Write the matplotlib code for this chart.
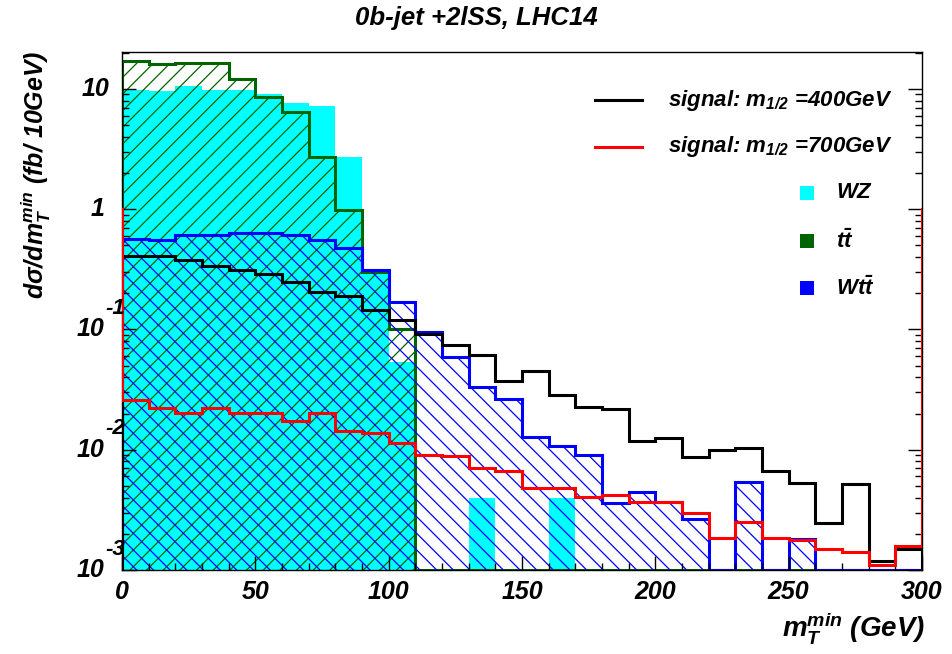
import numpy as np
import matplotlib
matplotlib.use("Agg")
import matplotlib.pyplot as plt
import matplotlib.transforms as mtransforms
from matplotlib.lines import Line2D
from matplotlib.patches import Rectangle

plt.rcParams['font.family'] = ['Liberation Sans', 'DejaVu Sans']
plt.rcParams['font.weight'] = 'bold'
plt.rcParams['font.style'] = 'italic'
plt.rcParams['mathtext.fontset'] = 'custom'
plt.rcParams['mathtext.it'] = 'Liberation Sans:bold:italic'
plt.rcParams['mathtext.rm'] = 'Liberation Sans:bold:italic'
plt.rcParams['mathtext.bf'] = 'Liberation Sans:bold:italic'
plt.rcParams['hatch.linewidth'] = 0.9

# m_T^min bins, 10 GeV wide
bin_edges = np.arange(0, 310, 10)

# WZ (cyan, solid)
wz = [9.9, 9.7, 10.5, 9.9, 9.8, 9.0, 7.6, 7.2, 2.7, 0.30,
      0.054, 0, 0, 0.0040, 0, 0, 0.0040, 0, 0, 0,
      0, 0, 0, 0, 0, 0, 0, 0, 0, 0]
# ttbar (green, ///)
tt = [17.2, 16.1, 16.4, 16.4, 12.0, 8.5, 6.4, 2.7, 0.98, 0.30,
      0.101, 0, 0, 0, 0, 0, 0, 0, 0, 0,
      0, 0, 0, 0, 0, 0, 0, 0, 0, 0]
# W ttbar (blue, \\\)
wtt = [0.57, 0.56, 0.61, 0.61, 0.63, 0.63, 0.61, 0.55, 0.48, 0.31,
       0.169, 0.095, 0.0588, 0.0335, 0.0262, 0.0127, 0.0107, 0.0090, 0.00362, 0.00447,
       0.0037, 0.00268, 0, 0.0054, 0, 0.0018, 0, 0, 0, 0]
# signal m_1/2 = 400 GeV
sig400 = [0.41, 0.41, 0.375, 0.34, 0.31, 0.29, 0.25, 0.205, 0.19, 0.146,
          0.12, 0.091, 0.0736, 0.0619, 0.0371, 0.045, 0.0286, 0.0228, 0.0218, 0.0119,
          0.0125, 0.00863, 0.0100, 0.0103, 0.0066, 0.00534, 0.00245, 0.00518, 0.00119, 0.0015]
# signal m_1/2 = 700 GeV, with underflow (first) and overflow (last) bins
sig700 = [1.0,
          0.026, 0.0222, 0.0201, 0.0222, 0.0201, 0.0201, 0.0175, 0.0201, 0.0144, 0.0137,
          0.0113, 0.0091, 0.0088, 0.0070, 0.0067, 0.00485, 0.00485, 0.00406, 0.0042, 0.0037,
          0.0037, 0.0030, 0.00186, 0.0025, 0.00186, 0.00177, 0.00149, 0.00141, 0.0011, 0.00158,
          1.0]
sig700_edges = np.arange(-10, 320, 10)

YMIN, YMAX = 1e-3, 20.3
C_WZ, C_TT, C_WTT = '#00ffff', '#006400', '#0000ff'

fig = plt.figure(figsize=(9.53, 6.54), dpi=100)
ax = fig.add_axes([122 / 953, 1 - 570 / 654, 800 / 953, 518 / 654])
ax.set_yscale('log')


def clip(v):
    return np.maximum(np.asarray(v, dtype=float), YMIN)


ax.stairs(clip(wz), bin_edges, baseline=YMIN, fill=True, color=C_WZ, linewidth=0)

ax.stairs(clip(tt), bin_edges, baseline=YMIN, fill=True, facecolor='none',
          edgecolor=C_TT, hatch='//', linewidth=0)
ax.stairs(clip(tt), bin_edges, baseline=YMIN, color=C_TT, linewidth=2.2)

ax.stairs(clip(wtt), bin_edges, baseline=YMIN, fill=True, facecolor='none',
          edgecolor=C_WTT, hatch='\\\\', linewidth=0)
ax.stairs(clip(wtt), bin_edges, baseline=YMIN, color=C_WTT, linewidth=2.2)

ax.stairs(clip(sig400), bin_edges, baseline=YMIN, color='black', linewidth=2.2)
ax.stairs(clip(sig700), sig700_edges, baseline=YMIN, color='red', linewidth=2.2, zorder=3)

ax.set_xlim(0, 300)
ax.set_ylim(YMIN, YMAX)

for s in ax.spines.values():
    s.set_linewidth(1.0)

ax.set_xticks(np.arange(0, 301, 50))
ax.set_xticks(np.arange(0, 301, 10), minor=True)
ax.tick_params(which='both', direction='in', right=True, top=False, width=1)
ax.tick_params(which='major', length=10)
ax.tick_params(which='minor', length=5)
ax.tick_params(axis='x', labelsize=18, pad=7)
ax.tick_params(axis='y', labelleft=False)
ax.yaxis.set_minor_locator(matplotlib.ticker.LogLocator(base=10, subs=np.arange(2, 10), numticks=20))
ax.yaxis.set_minor_formatter(matplotlib.ticker.NullFormatter())

# ROOT-style log labels
ytr = ax.get_yaxis_transform()
ytr_up = mtransforms.offset_copy(ytr, fig=fig, y=15, units='points')
for e in [-3, -2, -1]:
    ax.text(-0.022, 10.0 ** e, '10', transform=ytr, ha='right', va='center', fontsize=18)
    ax.text(-0.021, 10.0 ** e, str(e), transform=ytr_up, ha='left', va='center', fontsize=16)
ax.text(-0.022, 1, '1', transform=ytr, ha='right', va='center', fontsize=18)
ax.text(-0.016, 10, '10', transform=ytr, ha='right', va='center', fontsize=18)

fig.text(0.5, 1 - 18 / 654, '0b-jet +2lSS, LHC14', ha='center', va='center', fontsize=18.5)
fig.text(36 / 953, 1 - 50 / 654, r'd$\sigma$/dm$_{T}^{min}$ (fb/ 10GeV)', rotation=90,
         ha='center', va='top', fontsize=18)
fig.text(925 / 953, 1 - 628 / 654, r'm$_{T}^{min}$ (GeV)', ha='right', va='center', fontsize=20)

# legend
leg_lines = [('black', r'signal: m$_{1/2}$ =400GeV', 0.907),
             ('red', r'signal: m$_{1/2}$ =700GeV', 0.817)]
for col, lab, yy in leg_lines:
    ax.add_line(Line2D([0.591, 0.65], [yy, yy], color=col, linewidth=2.2, transform=ax.transAxes))
    ax.text(0.6825, yy, lab, transform=ax.transAxes, ha='left', va='center', fontsize=16)

leg_boxes = [(C_WZ, 'WZ', 0.728), (C_TT, r'$t\bar{t}$', 0.635), (C_WTT, r'$Wt\bar{t}$', 0.544)]
bw, bh = 14 / 800, 14 / 518
for col, lab, yy in leg_boxes:
    ax.add_patch(Rectangle((0.856 - bw / 2, yy - bh / 2), bw, bh, facecolor=col,
                           edgecolor='none', transform=ax.transAxes))
    ax.text(0.8925, yy, lab, transform=ax.transAxes, ha='left', va='center', fontsize=16)

fig.savefig('out.png', dpi=100)
